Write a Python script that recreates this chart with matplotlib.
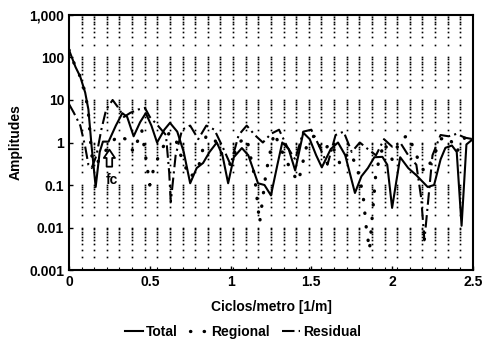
import matplotlib
matplotlib.use('Agg')
import matplotlib.pyplot as plt
from matplotlib.lines import Line2D
import numpy as np

plt.rcParams['font.family'] = ['Liberation Sans', 'DejaVu Sans']
plt.rcParams['font.weight'] = 'bold'

# espectro total
x_total = [0.00, 0.04, 0.07, 0.10, 0.12, 0.14, 0.165, 0.19, 0.21, 0.245, 0.29, 0.33,
           0.36, 0.40, 0.44, 0.475, 0.51, 0.545, 0.59, 0.625, 0.67, 0.71, 0.75, 0.79,
           0.83, 0.87, 0.915, 0.95, 0.985, 1.02, 1.07, 1.11, 1.17, 1.21, 1.25, 1.29,
           1.32, 1.36, 1.40, 1.45, 1.49, 1.53, 1.565, 1.62, 1.665, 1.71, 1.77, 1.81,
           1.85, 1.89, 1.94, 1.97, 2.00, 2.05, 2.10, 2.15, 2.22, 2.26, 2.30, 2.33,
           2.37, 2.40, 2.43, 2.46, 2.50]
y_total = [150, 60, 35, 15, 6, 0.8, 0.09, 0.6, 1.05, 1.05, 2.5, 4.9,
           4.0, 1.4, 3.0, 4.9, 2.5, 1.0, 2.0, 2.9, 1.8, 0.6, 0.11, 0.25,
           0.33, 0.6, 1.0, 0.5, 0.11, 0.45, 0.74, 0.5, 0.11, 0.1, 0.057, 0.3,
           1.0, 0.7, 0.22, 1.7, 1.2, 0.5, 0.26, 0.7, 1.0, 0.5, 0.065, 0.16,
           0.25, 0.45, 0.46, 0.3, 0.029, 0.45, 0.25, 0.17, 0.09, 0.1, 0.4, 0.75,
           0.85, 0.6, 0.011, 0.9, 1.2]

# componente regional
x_reg = [0.00, 0.04, 0.07, 0.10, 0.12, 0.14, 0.17, 0.20, 0.25, 0.30, 0.35, 0.40,
         0.45, 0.50, 0.53, 0.57, 0.62, 0.66, 0.70, 0.75, 0.80, 0.85, 0.90, 0.95,
         1.00, 1.05, 1.10, 1.15, 1.18, 1.22, 1.27, 1.32, 1.38, 1.42, 1.47, 1.52,
         1.57, 1.62, 1.68, 1.73, 1.78, 1.82, 1.84, 1.86, 1.90, 1.95, 2.00, 2.05,
         2.10, 2.15, 2.20, 2.25, 2.30, 2.35, 2.40, 2.45, 2.50]
y_reg = [150, 60, 35, 15, 5, 0.5, 0.3, 0.5, 0.8, 1.5, 1.2, 0.6,
         2.0, 0.1, 0.3, 0.6, 1.7, 1.2, 0.4, 0.15, 0.25, 1.5, 1.2, 0.5,
         0.3, 1.0, 1.3, 0.15, 0.013, 0.2, 1.7, 0.6, 0.2, 0.12, 0.8, 1.5,
         0.6, 1.0, 0.3, 0.6, 0.3, 0.06, 0.01, 0.003, 0.2, 1.0, 0.4, 1.15,
         1.5, 0.5, 0.2, 0.4, 1.2, 1.4, 0.6, 1.3, 1.0]

# componente residual
x_res = [0.00, 0.03, 0.07, 0.10, 0.12, 0.14, 0.17, 0.20, 0.23, 0.27, 0.30, 0.34,
         0.38, 0.43, 0.47, 0.50, 0.55, 0.60, 0.62, 0.63, 0.66, 0.70, 0.75, 0.80,
         0.85, 0.90, 0.95, 1.00, 1.05, 1.10, 1.15, 1.20, 1.25, 1.30, 1.35, 1.40,
         1.45, 1.50, 1.55, 1.60, 1.65, 1.70, 1.75, 1.80, 1.85, 1.90, 1.95, 2.00,
         2.05, 2.10, 2.15, 2.18, 2.20, 2.25, 2.30, 2.35, 2.40, 2.45, 2.50]
y_res = [8, 5, 2.5, 0.8, 0.3, 0.25, 0.5, 2.0, 6, 10, 7, 4,
         5, 6, 6.5, 4, 2.5, 1.5, 0.2, 0.04, 0.5, 2.0, 2.5, 1.2,
         2.5, 2.0, 0.8, 0.3, 1.5, 2.5, 1.5, 1.0, 1.6, 2.0, 0.8, 0.4,
         1.8, 2.0, 0.8, 0.3, 1.5, 1.8, 0.6, 1.0, 0.7, 0.5, 1.2, 0.8,
         1.0, 0.5, 0.3, 0.05, 0.005, 0.5, 1.5, 1.4, 1.6, 1.3, 1.2]

y_ticks = [0.001, 0.01, 0.1, 1, 10, 100, 1000]
y_labels = ['0.001', '0.01', '0.1', '1', '10', '100', '1,000']
x_ticks = [0, 0.5, 1, 1.5, 2, 2.5]
x_labels = ['0', '0.5', '1', '1.5', '2', '2.5']

REG_LS = (0, (0.1, 4.0))
RES_LS = (0, (6, 2, 1, 2))

fig = plt.figure(figsize=(4.86, 3.48), dpi=100)
ax = fig.add_axes([0.142, 0.224, 0.831, 0.733])

# lineas verticales punteadas (rejilla logaritmica)
grid_x = np.arange(1, 32) * 2.5 / 32
grid_y = np.array([j * 10.0 ** n for n in range(-3, 3) for j in range(1, 10)] + [1000])
for gx in grid_x:
    ax.plot(np.full(len(grid_y), gx), grid_y, ls='none', marker='s', ms=1.2,
            mew=0, color='black')

ax.plot(x_total, y_total, color='black', lw=1.5)
ax.plot(x_reg, y_reg, color='black', lw=2.4, ls=REG_LS, dash_capstyle='round')
ax.plot(x_res, y_res, color='black', lw=1.5, ls=RES_LS)

# flecha de la frecuencia de corte
ax.annotate('', xy=(0.25, 0.68), xytext=(0.25, 0.27),
            arrowprops=dict(arrowstyle='simple,head_width=0.8,head_length=0.6,tail_width=0.4',
                            mutation_scale=10, shrinkA=0, shrinkB=0,
                            fc='white', ec='black', lw=1.3))
ax.text(0.225, 0.13, 'fc', fontsize=10, fontweight='bold', ha='left', va='center')

ax.set_yscale('log')
ax.set_xlim(0, 2.5)
ax.set_ylim(0.001, 1000)
ax.set_yticks(y_ticks)
ax.set_yticklabels(y_labels)
ax.yaxis.set_minor_locator(matplotlib.ticker.NullLocator())
ax.set_xticks(x_ticks)
ax.set_xticklabels(x_labels)
ax.set_xticks(grid_x, minor=True)
ax.tick_params(axis='both', which='major', direction='in', length=3, width=1,
               labelsize=10)
ax.tick_params(axis='x', which='minor', direction='in', length=2, width=0.8)
for s in ax.spines.values():
    s.set_linewidth(1.5)

ax.set_xlabel('Ciclos/metro [1/m]', fontsize=10, fontweight='bold', labelpad=8)
ax.set_ylabel('Amplitudes', fontsize=10, fontweight='bold', labelpad=5)

handles = [Line2D([], [], color='black', lw=1.5),
           Line2D([], [], color='black', lw=2.4, ls=REG_LS, dash_capstyle='round'),
           Line2D([], [], color='black', lw=1.5, ls=RES_LS)]
fig.legend(handles, ['Total', 'Regional', 'Residual'], loc='lower center',
           bbox_to_anchor=(0.5, -0.01), ncol=3, frameon=False, handlelength=1.3,
           handletextpad=0.2, columnspacing=0.9, prop={'size': 10, 'weight': 'bold'})

fig.savefig('out.png', dpi=100)
